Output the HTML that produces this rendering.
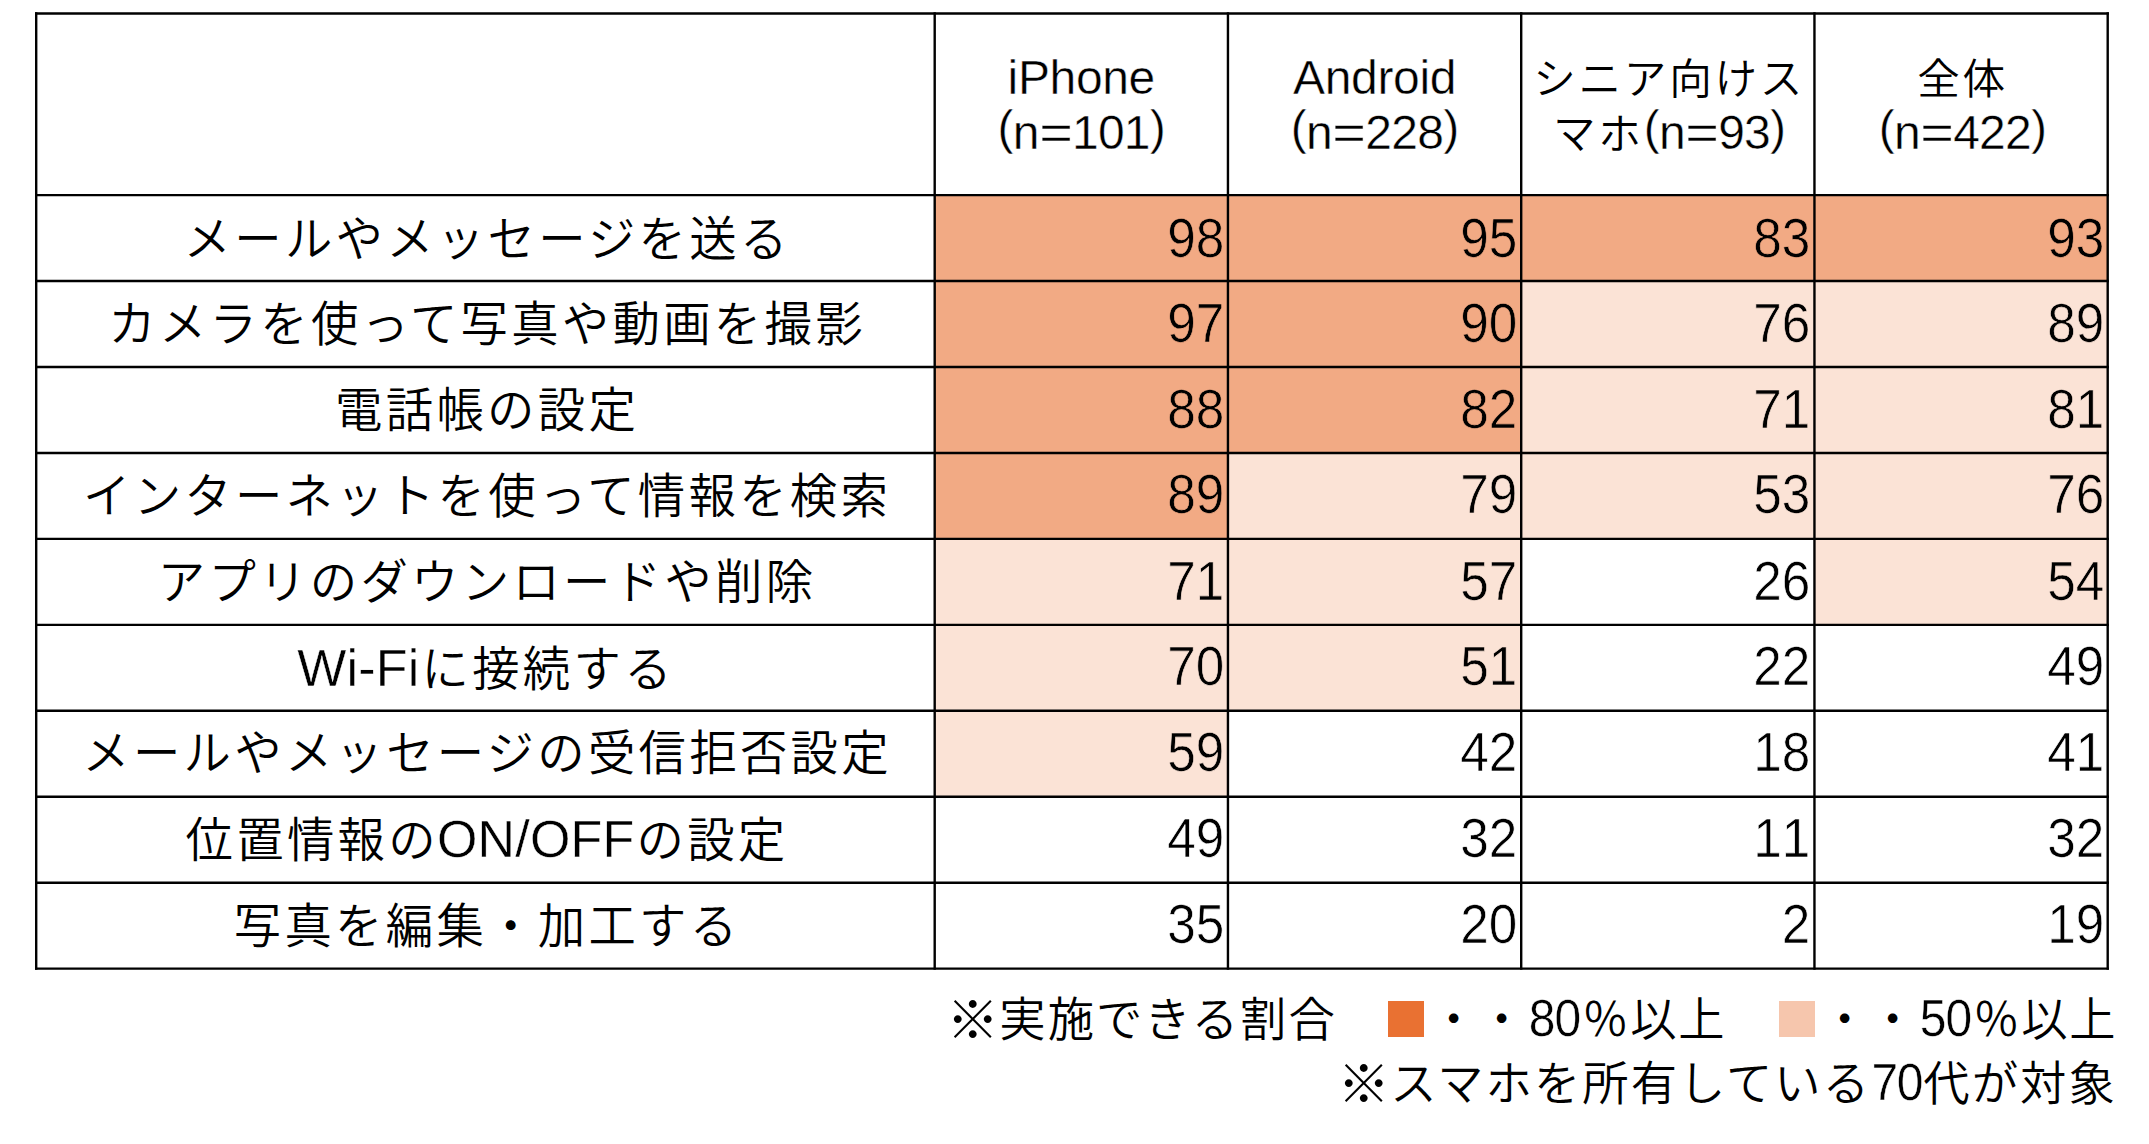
<!DOCTYPE html>
<html lang="ja">
<head>
<meta charset="utf-8">
<title>スマホでできること</title>
<style>
html,body{margin:0;padding:0;background:#fff;}
body{width:2149px;height:1144px;position:relative;overflow:hidden;color:#000;
 font-family:"Liberation Sans","Noto Sans CJK JP",sans-serif;font-weight:350;}
.grid{position:absolute;left:0;top:0;}
.t{position:absolute;white-space:nowrap;}
.lab{font-size:47.4px;letter-spacing:3.27px;line-height:86px;height:86px;text-align:center;padding-left:3.27px;box-sizing:border-box;}
.lab .e{font-size:52px;letter-spacing:0.2px;margin:0 2px 0 -2px;}
.num{font-size:55px;letter-spacing:0;font-kerning:none;transform:scaleX(0.933);transform-origin:100% 50%;line-height:86px;height:86px;text-align:right;}
.hd{font-size:42.6px;letter-spacing:2.73px;line-height:55.1px;text-align:center;padding-left:2.73px;box-sizing:border-box;}
.hd .e{font-size:48px;letter-spacing:-0.35px;}
.hd .p{letter-spacing:-0.75px;}
.hd .q{display:inline-block;transform:scaleX(1.2);margin:0 3px;}
.hd .r{position:relative;top:-5px;}
.ft{font-size:46.3px;letter-spacing:1.7px;line-height:64px;}
.ft.w{letter-spacing:2.05px;}
.ft .e{font-size:51px;letter-spacing:-0.9px;display:inline-block;transform:scaleX(0.94);margin-right:0.9px;}
.ft.w .e{letter-spacing:-1.7px;margin:0 0 0 -1px;}
.e{-webkit-text-stroke:0.45px #fff;line-height:0;}
.lab .e{-webkit-text-stroke-width:0.4px;}
.num{-webkit-text-stroke:0.65px #fff;}
.num.d{-webkit-text-stroke-color:#F2AA84;}
.num.g{-webkit-text-stroke-color:#FBE3D6;}
.ft .k{font-size:52.5px;line-height:0;letter-spacing:0;position:relative;top:2.5px;margin:0 0.4px 0 -3.6px;}
.sq{position:absolute;width:36.2px;height:36.2px;}
</style>
</head>
<body>
<svg class="grid" width="2149" height="1144" viewBox="0 0 2149 1144">
<rect x="934.70" y="195.10" width="293.25" height="85.95" fill="#F2AA84"/>
<rect x="1227.95" y="195.10" width="293.25" height="85.95" fill="#F2AA84"/>
<rect x="1521.20" y="195.10" width="293.25" height="85.95" fill="#F2AA84"/>
<rect x="1814.45" y="195.10" width="293.25" height="85.95" fill="#F2AA84"/>
<rect x="934.70" y="281.05" width="293.25" height="85.95" fill="#F2AA84"/>
<rect x="1227.95" y="281.05" width="293.25" height="85.95" fill="#F2AA84"/>
<rect x="1521.20" y="281.05" width="293.25" height="85.95" fill="#FBE3D6"/>
<rect x="1814.45" y="281.05" width="293.25" height="85.95" fill="#FBE3D6"/>
<rect x="934.70" y="367.00" width="293.25" height="85.95" fill="#F2AA84"/>
<rect x="1227.95" y="367.00" width="293.25" height="85.95" fill="#F2AA84"/>
<rect x="1521.20" y="367.00" width="293.25" height="85.95" fill="#FBE3D6"/>
<rect x="1814.45" y="367.00" width="293.25" height="85.95" fill="#FBE3D6"/>
<rect x="934.70" y="452.95" width="293.25" height="85.95" fill="#F2AA84"/>
<rect x="1227.95" y="452.95" width="293.25" height="85.95" fill="#FBE3D6"/>
<rect x="1521.20" y="452.95" width="293.25" height="85.95" fill="#FBE3D6"/>
<rect x="1814.45" y="452.95" width="293.25" height="85.95" fill="#FBE3D6"/>
<rect x="934.70" y="538.90" width="293.25" height="85.95" fill="#FBE3D6"/>
<rect x="1227.95" y="538.90" width="293.25" height="85.95" fill="#FBE3D6"/>
<rect x="1814.45" y="538.90" width="293.25" height="85.95" fill="#FBE3D6"/>
<rect x="934.70" y="624.85" width="293.25" height="85.95" fill="#FBE3D6"/>
<rect x="1227.95" y="624.85" width="293.25" height="85.95" fill="#FBE3D6"/>
<rect x="934.70" y="710.80" width="293.25" height="85.95" fill="#FBE3D6"/>
<g stroke="#000" stroke-width="2.4" stroke-linecap="square">
<line x1="36.2" y1="13.50" x2="2107.7" y2="13.50"/>
<line x1="36.2" y1="195.10" x2="2107.7" y2="195.10"/>
<line x1="36.2" y1="281.05" x2="2107.7" y2="281.05"/>
<line x1="36.2" y1="367.00" x2="2107.7" y2="367.00"/>
<line x1="36.2" y1="452.95" x2="2107.7" y2="452.95"/>
<line x1="36.2" y1="538.90" x2="2107.7" y2="538.90"/>
<line x1="36.2" y1="624.85" x2="2107.7" y2="624.85"/>
<line x1="36.2" y1="710.80" x2="2107.7" y2="710.80"/>
<line x1="36.2" y1="796.75" x2="2107.7" y2="796.75"/>
<line x1="36.2" y1="882.70" x2="2107.7" y2="882.70"/>
<line x1="36.2" y1="968.65" x2="2107.7" y2="968.65"/>
<line x1="36.20" y1="13.5" x2="36.20" y2="968.65"/>
<line x1="934.70" y1="13.5" x2="934.70" y2="968.65"/>
<line x1="1227.95" y1="13.5" x2="1227.95" y2="968.65"/>
<line x1="1521.20" y1="13.5" x2="1521.20" y2="968.65"/>
<line x1="1814.45" y1="13.5" x2="1814.45" y2="968.65"/>
<line x1="2107.70" y1="13.5" x2="2107.70" y2="968.65"/>
</g>
</svg>
<div role="table" aria-label="70代がスマホで実施できる割合">
<div role="row">
<div role="columnheader" class="t hd" style="left:934.7px;width:293.2px;top:52px;padding-left:0"><span class="e">iPhone</span><br><span class="e p"><span class="r">(</span>n<span class="q">=</span>101<span class="r">)</span></span></div>
<div role="columnheader" class="t hd" style="left:1228.0px;width:293.2px;top:52px;padding-left:0"><span class="e">Android</span><br><span class="e p"><span class="r">(</span>n<span class="q">=</span>228<span class="r">)</span></span></div>
<div role="columnheader" class="t hd" style="left:1521.2px;width:293.2px;top:52px">シニア向けス<br>マホ<span class="e p"><span class="r">(</span>n<span class="q">=</span>93<span class="r">)</span></span></div>
<div role="columnheader" class="t hd" style="left:1814.5px;width:293.2px;top:52px">全体<br><span class="e p"><span class="r">(</span>n<span class="q">=</span>422<span class="r">)</span></span></div>
</div>
<div role="row">
<div role="rowheader" class="t lab" style="left:36.2px;width:898.5px;top:196.6px">メールやメッセージを送る</div>
<div role="cell" class="t num d" style="left:934.7px;width:289.4px;top:194.5px">98</div>
<div role="cell" class="t num d" style="left:1228.0px;width:289.4px;top:194.5px">95</div>
<div role="cell" class="t num d" style="left:1521.2px;width:289.4px;top:194.5px">83</div>
<div role="cell" class="t num d" style="left:1814.5px;width:289.3px;top:194.5px">93</div>
</div>
<div role="row">
<div role="rowheader" class="t lab" style="left:36.2px;width:898.5px;top:281.6px">カメラを使って写真や動画を撮影</div>
<div role="cell" class="t num d" style="left:934.7px;width:289.4px;top:279.5px">97</div>
<div role="cell" class="t num d" style="left:1228.0px;width:289.4px;top:279.5px">90</div>
<div role="cell" class="t num g" style="left:1521.2px;width:289.4px;top:279.5px">76</div>
<div role="cell" class="t num g" style="left:1814.5px;width:289.3px;top:279.5px">89</div>
</div>
<div role="row">
<div role="rowheader" class="t lab" style="left:36.2px;width:898.5px;top:367.5px">電話帳の設定</div>
<div role="cell" class="t num d" style="left:934.7px;width:289.4px;top:365.5px">88</div>
<div role="cell" class="t num d" style="left:1228.0px;width:289.4px;top:365.5px">82</div>
<div role="cell" class="t num g" style="left:1521.2px;width:289.4px;top:365.5px">71</div>
<div role="cell" class="t num g" style="left:1814.5px;width:289.3px;top:365.5px">81</div>
</div>
<div role="row">
<div role="rowheader" class="t lab" style="left:36.2px;width:898.5px;top:453.5px">インターネットを使って情報を検索</div>
<div role="cell" class="t num d" style="left:934.7px;width:289.4px;top:450.5px">89</div>
<div role="cell" class="t num g" style="left:1228.0px;width:289.4px;top:450.5px">79</div>
<div role="cell" class="t num g" style="left:1521.2px;width:289.4px;top:450.5px">53</div>
<div role="cell" class="t num g" style="left:1814.5px;width:289.3px;top:450.5px">76</div>
</div>
<div role="row">
<div role="rowheader" class="t lab" style="left:36.2px;width:898.5px;top:540.4px">アプリのダウンロードや削除</div>
<div role="cell" class="t num g" style="left:934.7px;width:289.4px;top:537.5px">71</div>
<div role="cell" class="t num g" style="left:1228.0px;width:289.4px;top:537.5px">57</div>
<div role="cell" class="t num" style="left:1521.2px;width:289.4px;top:537.5px">26</div>
<div role="cell" class="t num g" style="left:1814.5px;width:289.3px;top:537.5px">54</div>
</div>
<div role="row">
<div role="rowheader" class="t lab" style="left:36.2px;width:898.5px;top:627.4px"><span class="e">Wi-Fi</span>に接続する</div>
<div role="cell" class="t num g" style="left:934.7px;width:289.4px;top:622.5px">70</div>
<div role="cell" class="t num g" style="left:1228.0px;width:289.4px;top:622.5px">51</div>
<div role="cell" class="t num" style="left:1521.2px;width:289.4px;top:622.5px">22</div>
<div role="cell" class="t num" style="left:1814.5px;width:289.3px;top:622.5px">49</div>
</div>
<div role="row">
<div role="rowheader" class="t lab" style="left:36.2px;width:898.5px;top:711.3px">メールやメッセージの受信拒否設定</div>
<div role="cell" class="t num g" style="left:934.7px;width:289.4px;top:708.5px">59</div>
<div role="cell" class="t num" style="left:1228.0px;width:289.4px;top:708.5px">42</div>
<div role="cell" class="t num" style="left:1521.2px;width:289.4px;top:708.5px">18</div>
<div role="cell" class="t num" style="left:1814.5px;width:289.3px;top:708.5px">41</div>
</div>
<div role="row">
<div role="rowheader" class="t lab" style="left:36.2px;width:898.5px;top:798.2px">位置情報の<span class="e">ON/OFF</span>の設定</div>
<div role="cell" class="t num" style="left:934.7px;width:289.4px;top:794.5px">49</div>
<div role="cell" class="t num" style="left:1228.0px;width:289.4px;top:794.5px">32</div>
<div role="cell" class="t num" style="left:1521.2px;width:289.4px;top:794.5px">11</div>
<div role="cell" class="t num" style="left:1814.5px;width:289.3px;top:794.5px">32</div>
</div>
<div role="row">
<div role="rowheader" class="t lab" style="left:36.2px;width:898.5px;top:884.2px">写真を編集・加工する</div>
<div role="cell" class="t num" style="left:934.7px;width:289.4px;top:880.5px">35</div>
<div role="cell" class="t num" style="left:1228.0px;width:289.4px;top:880.5px">20</div>
<div role="cell" class="t num" style="left:1521.2px;width:289.4px;top:880.5px">2</div>
<div role="cell" class="t num" style="left:1814.5px;width:289.3px;top:880.5px">19</div>
</div>
</div>
<div class="t ft w" style="left:950px;top:988px"><span class="k">※</span>実施できる割合</div>
<div class="sq" style="left:1388.3px;top:1000.7px;background:#E97132"></div>
<div class="t ft" style="left:1430.5px;top:988px">・・<span class="e">80</span>％以上</div>
<div class="sq" style="left:1778.9px;top:1000.7px;background:#F6C6AD"></div>
<div class="t ft" style="left:1821.5px;top:988px">・・<span class="e">50</span>％以上</div>
<div class="t ft w" style="left:1341px;top:1052px"><span class="k">※</span>スマホを所有している<span class="e">70</span>代が対象</div>
</body>
</html>
